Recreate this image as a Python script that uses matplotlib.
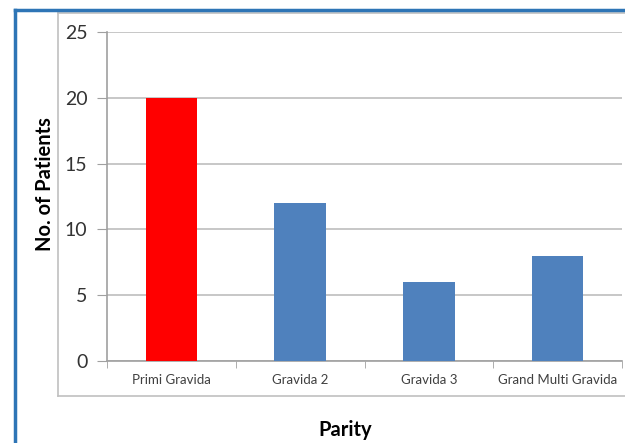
import matplotlib.pyplot as plt
from matplotlib.lines import Line2D

# Patients by parity
categories = ["Primi Gravida", "Gravida 2", "Gravida 3", "Grand Multi Gravida"]
patients = [20, 12, 6, 8]
bar_colors = ["#FF0000", "#4F81BD", "#4F81BD", "#4F81BD"]
y_ticks = [0, 5, 10, 15, 20, 25]

plt.rcParams["font.family"] = ["Lato", "DejaVu Sans"]

fig = plt.figure(figsize=(6.25, 4.43), dpi=100)
ax = fig.add_axes([107 / 625, 1 - 361 / 443, 515 / 625, 329 / 443])

x = range(len(categories))
ax.bar(x, patients, width=0.40, color=bar_colors, zorder=3)

ax.set_xlim(-0.5, len(categories) - 0.5)
ax.set_ylim(0, 25)
ax.set_yticks(y_ticks)
ax.set_yticklabels([str(t) for t in y_ticks], fontsize=14, color="#333333")
ax.yaxis.grid(True, color="#BDBDBD", linewidth=1.2, zorder=0)

# category labels centred, tick marks between categories
ax.set_xticks(list(x))
ax.set_xticklabels(categories, fontsize=9.5, color="#404040")
ax.tick_params(axis="x", length=0, pad=9)
ax.set_xticks([i - 0.5 for i in range(len(categories) + 1)], minor=True)
ax.tick_params(axis="x", which="minor", length=5, color="#A0A0A0", direction="out")
ax.tick_params(axis="y", length=7, color="#A0A0A0", pad=7)

for side in ["top", "right"]:
    ax.spines[side].set_visible(False)
for side in ["left", "bottom"]:
    ax.spines[side].set_color("#A0A0A0")
    ax.spines[side].set_linewidth(1.2)

fig.text(45 / 625, 1 - 184 / 443, "No. of Patients", fontsize=14.5, fontweight="bold",
         rotation=90, ha="center", va="center")
fig.text(345 / 625, 1 - 430 / 443, "Parity", fontsize=14.5, fontweight="bold",
         ha="center", va="center")

# inner chart-area frame and outer blue border
gray = "#C0C0C0"
fig.add_artist(Line2D([58 / 625, 58 / 625], [1 - 13 / 443, 1 - 396 / 443],
                      color=gray, linewidth=1.2, transform=fig.transFigure))
fig.add_artist(Line2D([58 / 625, 1], [1 - 13 / 443, 1 - 13 / 443],
                      color=gray, linewidth=1.2, transform=fig.transFigure))
fig.add_artist(Line2D([58 / 625, 1], [1 - 396 / 443, 1 - 396 / 443],
                      color=gray, linewidth=1.2, transform=fig.transFigure))
blue = "#2E75B6"
fig.add_artist(Line2D([15 / 625, 15 / 625], [0, 1 - 10 / 443],
                      color=blue, linewidth=2.5, transform=fig.transFigure))
fig.add_artist(Line2D([15 / 625, 1], [1 - 10 / 443, 1 - 10 / 443],
                      color=blue, linewidth=2.5, transform=fig.transFigure))

fig.savefig("out.png", dpi=100)
